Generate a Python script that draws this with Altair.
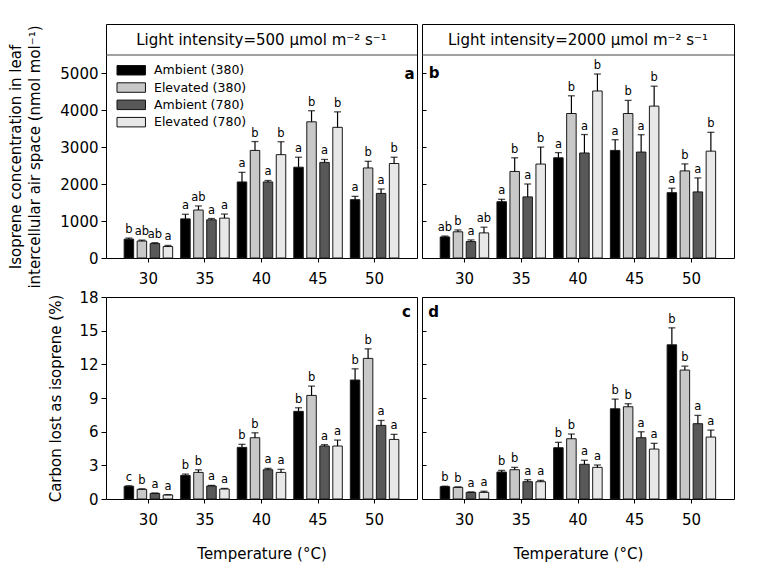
import altair as alt
import pandas as pd

temps = ["30", "35", "40", "45", "50"]
treatments = ["Ambient (380)", "Elevated (380)", "Ambient (780)", "Elevated (780)"]
colors = ["#000000", "#c8c8c8", "#585858", "#e8e8e8"]

# Panel a: isoprene concentration, 500 umol m-2 s-1
a_mean = {
    "Ambient (380)": [510, 1060, 2060, 2460, 1580],
    "Elevated (380)": [460, 1300, 2915, 3690, 2440],
    "Ambient (780)": [390, 1035, 2060, 2590, 1750],
    "Elevated (780)": [310, 1080, 2800, 3540, 2560],
}
a_err = {
    "Ambient (380)": [30, 125, 260, 270, 90],
    "Elevated (380)": [25, 110, 240, 300, 180],
    "Ambient (780)": [25, 35, 40, 80, 120],
    "Elevated (780)": [30, 110, 350, 420, 170],
}
a_let = {
    "Ambient (380)": ["b", "a", "a", "a", "a"],
    "Elevated (380)": ["ab", "ab", "b", "b", "b"],
    "Ambient (780)": ["ab", "a", "a", "a", "a"],
    "Elevated (780)": ["a", "a", "b", "b", "b"],
}

# Panel b: isoprene concentration, 2000 umol m-2 s-1
b_mean = {
    "Ambient (380)": [570, 1525, 2715, 2915, 1770],
    "Elevated (380)": [710, 2345, 3915, 3915, 2360],
    "Ambient (780)": [445, 1655, 2845, 2870, 1790],
    "Elevated (780)": [680, 2545, 4525, 4115, 2895],
}
b_err = {
    "Ambient (380)": [25, 65, 140, 290, 120],
    "Elevated (380)": [50, 370, 480, 355, 190],
    "Ambient (780)": [45, 350, 500, 470, 380],
    "Elevated (780)": [155, 460, 460, 540, 510],
}
b_let = {
    "Ambient (380)": ["ab", "a", "a", "a", "a"],
    "Elevated (380)": ["b", "b", "b", "b", "b"],
    "Ambient (780)": ["a", "a", "a", "a", "a"],
    "Elevated (780)": ["ab", "b", "b", "b", "b"],
}

# Panel c: carbon lost as isoprene, 500
c_mean = {
    "Ambient (380)": [1.13, 2.10, 4.60, 7.81, 10.60],
    "Elevated (380)": [0.86, 2.37, 5.46, 9.23, 12.53],
    "Ambient (780)": [0.50, 1.16, 2.61, 4.72, 6.56],
    "Elevated (780)": [0.36, 0.89, 2.37, 4.72, 5.31],
}
c_err = {
    "Ambient (380)": [0.05, 0.12, 0.27, 0.32, 1.00],
    "Elevated (380)": [0.05, 0.23, 0.44, 0.83, 0.85],
    "Ambient (780)": [0.03, 0.05, 0.12, 0.12, 0.44],
    "Elevated (780)": [0.03, 0.05, 0.27, 0.53, 0.45],
}
c_let = {
    "Ambient (380)": ["c", "b", "b", "b", "b"],
    "Elevated (380)": ["b", "b", "b", "b", "b"],
    "Ambient (780)": ["a", "a", "a", "a", "a"],
    "Elevated (780)": ["a", "a", "a", "a", "a"],
}

# Panel d: carbon lost as isoprene, 2000
d_mean = {
    "Ambient (380)": [1.10, 2.40, 4.57, 8.04, 13.74],
    "Elevated (380)": [1.04, 2.61, 5.37, 8.22, 11.49],
    "Ambient (780)": [0.59, 1.54, 3.09, 5.46, 6.71],
    "Elevated (780)": [0.59, 1.54, 2.82, 4.45, 5.52],
}
d_err = {
    "Ambient (380)": [0.04, 0.15, 0.48, 0.86, 1.51],
    "Elevated (380)": [0.04, 0.21, 0.42, 0.27, 0.35],
    "Ambient (780)": [0.04, 0.18, 0.36, 0.53, 0.74],
    "Elevated (780)": [0.10, 0.12, 0.21, 0.51, 0.62],
}
d_let = {
    "Ambient (380)": ["b", "b", "b", "b", "b"],
    "Elevated (380)": ["b", "b", "b", "b", "b"],
    "Ambient (780)": ["a", "a", "a", "a", "a"],
    "Elevated (780)": ["a", "a", "a", "a", "a"],
}

header_a = "Light intensity=500 \u03bcmol m\u207b\u00b2 s\u207b\u00b9"
header_b = "Light intensity=2000 \u03bcmol m\u207b\u00b2 s\u207b\u00b9"
ytitle_top = ["Isoprene concentration in leaf", "intercellular air space (nmol mol\u207b\u00b9)"]
ytitle_bot = "Carbon lost as isoprene (%)"
xtitle = "Temperature (\u00b0C)"

FONT = "DejaVu Sans"
HEADER_H = 31


def make_df(means, errs, lets):
    rows = []
    for t in treatments:
        for j, temp in enumerate(temps):
            rows.append({
                "temp": temp, "treatment": t, "mean": means[t][j],
                "top": means[t][j] + errs[t][j], "letter": lets[t][j],
            })
    return pd.DataFrame(rows)


def panel(df, width, height, ydomain, yvalues, left, header, letter, letter_x,
          letter_y, ytitle, legend, bottom):
    if header:
        yscale = alt.Scale(domain=ydomain, nice=False, zero=True, range=[height, HEADER_H])
    else:
        yscale = alt.Scale(domain=ydomain, nice=False, zero=True)
    if left:
        yaxis = alt.Axis(values=yvalues, title=ytitle, tickSize=5, labelPadding=3,
                         format="d", domain=False, grid=False,
                         titlePadding=17 if header else 15,
                         titleLineHeight=19, labelFontSize=15, titleFontSize=15)
    else:
        yaxis = alt.Axis(values=yvalues, title=None, tickSize=4, labels=False,
                         offset=-4, domain=False, grid=False)
    xaxis = alt.Axis(title=xtitle if bottom else None, labelAngle=0, tickSize=4,
                     labelPadding=9, domain=False, grid=False, labelFontSize=15,
                     titleFontSize=15, titlePadding=19)
    x = alt.X("temp:N", sort=temps, axis=xaxis,
              scale=alt.Scale(paddingInner=0.08, paddingOuter=0.29))
    xo = alt.XOffset("treatment:N", sort=treatments,
                     scale=alt.Scale(paddingInner=0.27, paddingOuter=0.135))
    if legend:
        leg = alt.Legend(title=None, orient="none", legendX=9.5, legendY=40,
                         symbolType="M-1,-1L5,-1L5,1L-1,1Z", symbolSize=90,
                         symbolStrokeColor="#111", symbolStrokeWidth=1,
                         labelFontSize=12.5, labelOffset=26, rowPadding=3.3,
                         padding=0, labelFont=FONT, labelColor="black")
    else:
        leg = None
    fill = alt.Fill("treatment:N", sort=treatments,
                    scale=alt.Scale(domain=treatments, range=colors), legend=leg)
    base = alt.Chart(df)
    bars = base.mark_bar(stroke="#1a1a1a", strokeWidth=1).encode(
        x=x, xOffset=xo, y=alt.Y("mean:Q", scale=yscale, axis=yaxis), fill=fill)
    rule = base.mark_rule(color="black", strokeWidth=1.2).encode(
        x=x, xOffset=xo, y=alt.Y("mean:Q", scale=yscale, axis=yaxis), y2="top:Q")
    cap = base.mark_tick(color="black", size=7, thickness=1.3, orient="horizontal").encode(
        x=x, xOffset=xo, y=alt.Y("top:Q", scale=yscale, axis=yaxis))
    txt = base.mark_text(baseline="bottom", dy=-3, fontSize=11.5, font=FONT,
                         color="black", fill="black").encode(
        x=x, xOffset=xo, y=alt.Y("top:Q", scale=yscale, axis=yaxis), text="letter:N")
    lab = alt.Chart(pd.DataFrame({"t": [letter]})).mark_text(
        fontSize=15, fontWeight="bold", font=FONT, color="black", fill="black").encode(
        text="t:N", x=alt.value(letter_x), y=alt.value(letter_y))
    layers = [bars, rule, cap, txt, lab]
    if header:
        hdf = pd.DataFrame({"t": [header]})
        hline = alt.Chart(hdf).mark_rule(color="#444", strokeWidth=1).encode(
            x=alt.value(0), x2=alt.value(width), y=alt.value(HEADER_H))
        htxt = alt.Chart(hdf).mark_text(fontSize=15, font=FONT, color="black",
                                        fill="black", baseline="middle").encode(
            text="t:N", y=alt.value(HEADER_H / 2))
        layers += [hline, htxt]
    return alt.layer(*layers).properties(width=width, height=height)


pa = panel(make_df(a_mean, a_err, a_let), 311, 234, [0, 5500],
           [0, 1000, 2000, 3000, 4000, 5000], True, header_a, "a", 303.5, 50,
           ytitle_top, True, False)
pb = panel(make_df(b_mean, b_err, b_let), 312, 234, [0, 5500],
           [0, 1000, 2000, 3000, 4000, 5000], False, header_b, "b", 12, 49,
           None, False, False)
pc = panel(make_df(c_mean, c_err, c_let), 311, 202, [0, 18],
           [0, 3, 6, 9, 12, 15, 18], True, None, "c", 300.5, 15,
           ytitle_bot, False, True)
pd_ = panel(make_df(d_mean, d_err, d_let), 312, 202, [0, 18],
            [0, 3, 6, 9, 12, 15, 18], False, None, "d", 11.5, 15,
            None, False, True)

chart = alt.concat(pa, pb, pc, pd_, columns=2, spacing={"row": 0, "column": 3}).resolve_scale(
    x="independent", y="independent", fill="independent"
).properties(
    padding={"left": 0, "top": 15, "right": 0, "bottom": 0}
).configure(
    font=FONT
).configure_view(
    stroke="black", strokeWidth=1
).configure_axis(
    labelFont=FONT, titleFont=FONT, labelColor="black", titleColor="black",
    tickColor="black", titleFontWeight="normal"
)

chart.save("out.html", embed_options={"renderer": "svg", "actions": False})
